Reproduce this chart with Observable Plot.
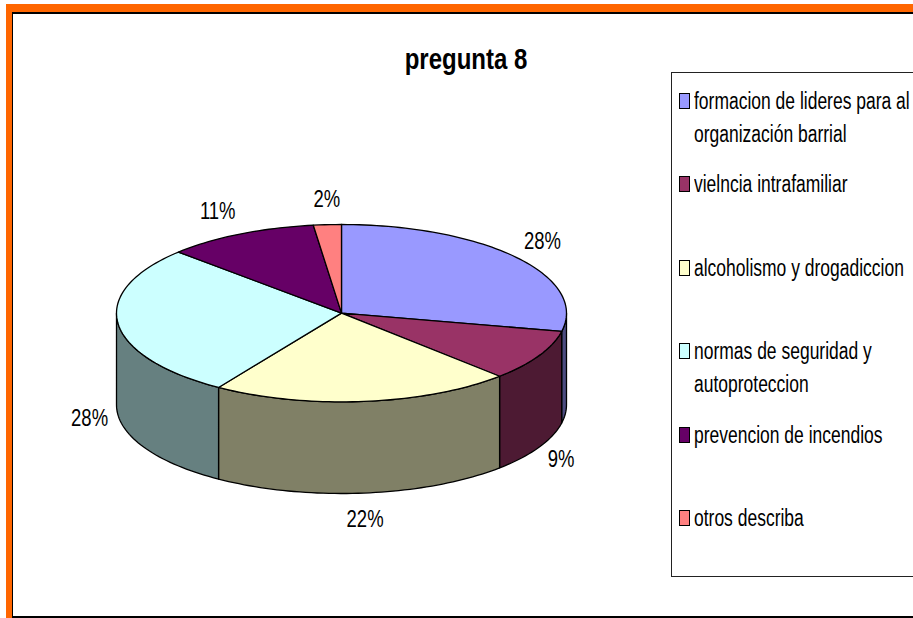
<!DOCTYPE html>
<html>
<head>
<meta charset="utf-8">
<script src="https://cdn.jsdelivr.net/npm/d3@7"></script>
<script src="https://cdn.jsdelivr.net/npm/@observablehq/plot@0.6"></script>
<style>
html,body{margin:0;padding:0;background:#fff;width:913px;height:618px;overflow:hidden;position:relative}
body,#title,#legend{font-family:"Liberation Sans",Arial,sans-serif;color:#000}
#orange{position:absolute;left:6px;top:4px;right:0;bottom:0;border-top:8px solid #ff6600;border-left:6px solid #ff6600}
#inner{position:absolute;left:0;top:0;right:0;bottom:0;border-top:2px solid #000;border-left:1.5px solid #000;border-bottom:2px solid #000;box-sizing:border-box}
#chart{position:absolute;left:0;top:0}
#title{position:absolute;left:300px;width:332px;top:40px;text-align:center;font-weight:bold;font-size:30px;line-height:38px;transform:scaleX(.8);transform-origin:center}
#legend{position:absolute;left:671px;top:72px;width:242px;height:505px;box-sizing:border-box;border:1.5px solid #222;border-right:none;padding-top:12px}
.item{height:83.4px;position:relative;padding-left:22px;font-size:23px;line-height:33px;white-space:nowrap}
.item .t{transform:scaleX(.76);transform-origin:left center;width:1px}
.sw{position:absolute;left:7px;top:8px;width:9px;height:14px;border:1.2px solid #000}
</style>
</head>
<body>
<div id="orange"><div id="inner"></div></div>
<div id="chart"></div>
<div id="title">pregunta 8</div>
<div id="legend"></div>
<script>
const chartTitle = "pregunta 8";
const categories = [
  ["formacion de lideres para al", "organización barrial"],
  ["vielncia intrafamiliar"],
  ["alcoholismo y drogadiccion"],
  ["normas de seguridad y", "autoproteccion"],
  ["prevencion de incendios"],
  ["otros describa"]
];
const values = [28.3, 9.3, 21.6, 27.9, 10.9, 2.0];
const topColors = ["#9999ff", "#993366", "#ffffcc", "#ccffff", "#660066", "#ff8080"];
const sideColors = ["#4c4c80", "#4d1a33", "#808066", "#668080", "#330033", "#804040"];

// Tilted-cylinder geometry, in units of the pie radius
const depth = 92 / 89;
const total = d3.sum(values);
const cum = d3.cumsum(values);
const slices = values.map((v, i) => ({
  i, v,
  a0: (cum[i] - v) / total * 360,
  a1: cum[i] / total * 360
}));
const rad = d => d * Math.PI / 180;
const arc = (a0, a1, dz) => {
  const n = Math.max(2, Math.ceil((a1 - a0) / 1.5));
  return d3.range(n + 1).map(k => {
    const a = rad(a0 + (a1 - a0) * k / n);
    return {x: Math.sin(a), y: -Math.cos(a) + dz};
  });
};
const topPts = slices.flatMap(s => {
  const c = {x: 0, y: 0};
  return [c, ...arc(s.a0, s.a1, 0), c].map(p => ({...p, s: s.i, fill: topColors[s.i]}));
});
const sidePts = slices.flatMap(s => {
  const a0 = Math.max(s.a0, 90), a1 = Math.min(s.a1, 270);
  if (a1 <= a0) return [];
  const up = arc(a0, a1, 0), down = arc(a0, a1, depth).reverse();
  return [...up, ...down, up[0]].map(p => ({...p, s: s.i, fill: sideColors[s.i]}));
});
const labels = slices.map(s => {
  const a = rad((s.a0 + s.a1) / 2), sn = Math.sin(a), cs = Math.cos(a);
  return {
    x: sn * (1 + 10 / 225),
    y: -cs * (1 + 26 / 89) + (cs < 0 ? depth : 0),
    text: d3.format(".0%")(s.v / total),
    anchor: sn > 0.3 ? "start" : sn < -0.3 ? "end" : "middle"
  };
});
const lineOpts = {x: "x", y: "y", z: "s", fill: "fill", stroke: "#000", strokeWidth: 1.3, curve: "linear"};
const labelMark = anchor => Plot.text(labels.filter(d => d.anchor === anchor), {
  x: "x", y: "y", text: "text", textAnchor: anchor,
  fontSize: 24, fontFamily: '"Liberation Sans",Arial,sans-serif', fill: "#000", className: "pct"
});
const plot = Plot.plot({
  width: 913, height: 618,
  margin: 0,
  style: {background: "transparent"},
  x: {domain: [-1, 1], range: [116, 566], axis: null},
  y: {domain: [-1, 1 + depth], range: [224, 493], axis: null},
  color: {type: "identity"},
  marks: [
    Plot.line(sidePts, lineOpts),
    Plot.line(topPts, lineOpts),
    labelMark("start"), labelMark("middle"), labelMark("end")
  ]
});
document.getElementById("chart").append(plot);
// Narrow the percentage labels to the condensed face of the original
plot.querySelectorAll(".pct text").forEach(t => {
  const w = t.getComputedTextLength();
  t.setAttribute("textLength", (w * 0.77).toFixed(1));
  t.setAttribute("lengthAdjust", "spacingAndGlyphs");
});
document.getElementById("title").textContent = chartTitle;
const legend = d3.select("#legend");
categories.forEach((lines, i) => {
  const item = legend.append("div").attr("class", "item");
  item.append("div").attr("class", "sw").style("background", topColors[i]);
  lines.forEach(t => item.append("div").attr("class", "t").text(t));
});
</script>
</body>
</html>
